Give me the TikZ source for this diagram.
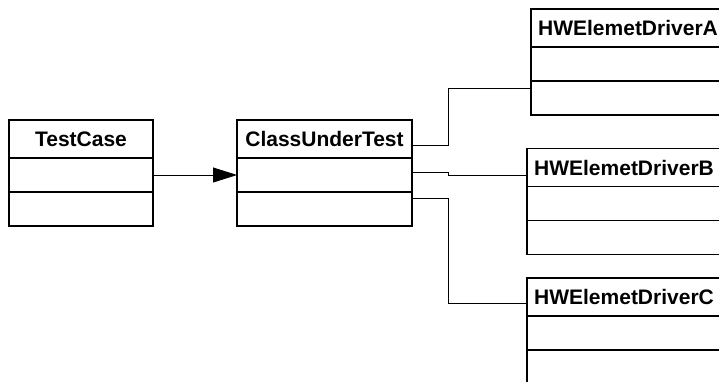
\documentclass[tikz,border=0pt]{standalone}
\usepackage{fontspec}
\setmainfont{Liberation Sans}
\usetikzlibrary{arrows.meta,positioning}

\begin{document}
\begin{tikzpicture}[
  x=1pt, y=1pt,
  font=\fontsize{21}{25}\selectfont\bfseries,
  classname/.style={rectangle, draw=black, line width=1.5pt, fill=white,
                    minimum height=38pt, inner xsep=7pt, outer sep=0pt},
  compartment/.style={rectangle, draw=black, line width=1.5pt, fill=white,
                      minimum height=34pt, outer sep=0pt},
  link/.style={line width=0.8pt},
  arr/.style={-{Triangle[length=24pt, width=15pt]}, line width=0.8pt}
]
\fill[white] (0,0) rectangle (719,381);
\useasboundingbox (0,0) rectangle (719,381);
\clip (0,0) rectangle (719,381);

% test case and the class it exercises
\node[classname, minimum width=144pt] (tc) at (81,242) {TestCase};
\node[compartment, minimum width=144pt, below=0pt of tc] (tc1) {};
\node[compartment, minimum width=144pt, below=0pt of tc1] (tc2) {};

\node[classname, minimum width=175pt, right=84pt of tc] (cut) {ClassUnderTest};
\node[compartment, minimum width=175pt, below=0pt of cut] (cut1) {};
\node[compartment, minimum width=175pt, below=0pt of cut1] (cut2) {};

% hardware element drivers
\node[classname, minimum width=194pt] (hwA) at (628,353) {HWElemetDriverA};
\node[compartment, minimum width=194pt, below=0pt of hwA] (hwA1) {};
\node[compartment, minimum width=194pt, below=0pt of hwA1] (hwA2) {};

\node[classname, minimum width=194pt] (hwB) at (624,213.5) {HWElemetDriverB};
\node[compartment, minimum width=194pt, below=0pt of hwB] (hwB1) {};
\node[compartment, minimum width=194pt, below=0pt of hwB1] (hwB2) {};

\node[classname, minimum width=194pt] (hwC) at (624,84) {HWElemetDriverC};
\node[compartment, minimum width=194pt, below=0pt of hwC] (hwC1) {};
\node[compartment, minimum width=194pt, below=0pt of hwC1] (hwC2) {};

\draw[arr] (tc1) -- (cut1);
\draw[link] ([yshift=-6.5pt]cut.east) -- ++(36,0) |- ([yshift=10pt]hwA2.west);
\draw[link] ([yshift=3pt]cut1.east) -- ++(36,0) |- ([yshift=-7.5pt]hwB.west);
\draw[link] ([yshift=10.5pt]cut2.east) -- ++(36,0) |- ([yshift=-6pt]hwC.west);

\end{tikzpicture}
\end{document}
